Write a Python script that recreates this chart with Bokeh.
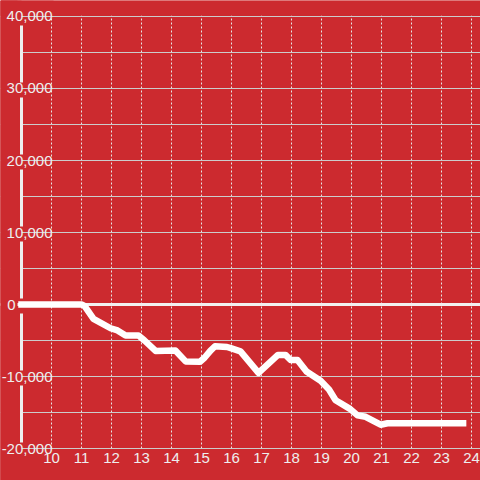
from bokeh.plotting import figure
from bokeh.models import (Range1d, FixedTicker, SingleIntervalTicker, LinearAxis,
                          Grid, BoxAnnotation, Span)
from bokeh.embed import file_html
from bokeh.resources import INLINE

# ---- data ----
hours = [9.0, 11.0, 11.1, 11.4, 11.97, 12.2, 12.47, 12.9, 13.1, 13.47, 14.13,
         14.47, 14.95, 15.1, 15.3, 15.45, 15.85, 16.0, 16.3, 16.9, 17.55, 17.8,
         17.97, 18.2, 18.5, 18.97, 19.25, 19.47, 19.95, 20.2, 20.47, 20.97,
         21.2, 23.72]
values = [0, 0, -200, -2000, -3300, -3600, -4300, -4300, -5000, -6450, -6400,
          -7900, -7950, -7400, -6400, -5800, -5900, -6100, -6500, -9500, -7000,
          -7000, -7700, -7700, -9300, -10600, -11800, -13300, -14500, -15400,
          -15600, -16700, -16500, -16500]

x_ticks = list(range(10, 25))
x_tick_labels = [str(v) for v in x_ticks]
y_ticks = [-20000, -10000, 0, 10000, 20000, 30000, 40000]
y_tick_labels = ["-20,000", "-10,000", "0", "10,000", "20,000", "30,000", "40,000"]

RED = "#cc2a2f"
LABEL = "#eeeeee"
FONT = "Liberation Sans"
Y0, Y1 = y_ticks[0], y_ticks[-1]
AXIS_X = 9

p = figure(width=480, height=480, output_backend="svg", toolbar_location=None,
           tools="", x_range=Range1d(8.3, 24.3), y_range=Range1d(-24444.4, 42222.2),
           min_border_left=0, min_border_right=0, min_border_top=0,
           min_border_bottom=0, background_fill_color=RED,
           border_fill_color=RED, outline_line_color=None)

p.xgrid.visible = False
p.ygrid.visible = False

# x axis, drawn along y = -20,000
xa = p.xaxis[0]
xa.ticker = FixedTicker(ticks=x_ticks)
xa.major_label_overrides = dict(zip(x_ticks, x_tick_labels))
xa.fixed_location = Y0
xa.axis_line_color = None
xa.major_tick_line_color = None
xa.minor_tick_line_color = None
xa.major_tick_out = 0
xa.major_label_standoff = 4
xa.major_label_text_color = LABEL
xa.major_label_text_font = FONT
xa.major_label_text_font_size = "15px"

# y axis (all ticks except 0), drawn at x = 9
nz_ticks = [t for t in y_ticks if t != 0]
ya = p.yaxis[0]
ya.ticker = FixedTicker(ticks=nz_ticks)
ya.major_label_overrides = {t: l for t, l in zip(y_ticks, y_tick_labels) if t != 0}
ya.fixed_location = AXIS_X
ya.axis_line_color = None
ya.major_tick_line_color = None
ya.minor_tick_line_color = None
ya.major_tick_out = 0
ya.major_label_standoff = -31
ya.major_label_text_color = LABEL
ya.major_label_text_font = FONT
ya.major_label_text_font_size = "15px"

# the "0" label sits left of the axis
za = LinearAxis(ticker=FixedTicker(ticks=[t for t in y_ticks if t == 0]),
                major_label_overrides={t: l for t, l in zip(y_ticks, y_tick_labels) if t == 0},
                fixed_location=AXIS_X, axis_line_color=None, major_tick_line_color=None,
                minor_tick_line_color=None, major_tick_out=0, major_label_standoff=6,
                major_label_text_color=LABEL, major_label_text_font=FONT,
                major_label_text_font_size="15px")
p.add_layout(za, "left")

def mask(level, **kw):
    return BoxAnnotation(fill_color=RED, fill_alpha=1, line_color=None, level=level, **kw)

# grids and masks, in drawing order
ytk = SingleIntervalTicker(interval=10000, num_minor_ticks=2)
p.add_layout(Grid(dimension=1, ticker=ytk, grid_line_color="#cccccc",
                  grid_line_width=1, level="image"))
p.add_layout(mask("image", right=10.067))
p.add_layout(Grid(dimension=0, ticker=FixedTicker(ticks=x_ticks), grid_line_color="#e6e6e6",
                  grid_line_dash="2 2", grid_line_width=1, level="underlay"))
p.add_layout(Grid(dimension=1, ticker=ytk, grid_line_color=None,
                  minor_grid_line_color="#cccccc", minor_grid_line_width=1,
                  level="underlay"))
p.add_layout(mask("underlay", right=AXIS_X))
p.add_layout(Span(location=0, dimension="width", line_color="#f2f2f2", line_width=3,
                  level="underlay"))
p.add_layout(mask("underlay", right=8.8667))
p.add_layout(mask("underlay", bottom=Y1 + 120))
p.add_layout(mask("underlay", top=Y0 - 120))

# y axis rule, broken where the tick labels sit
p.segment(x0=[AXIS_X], y0=[Y0], x1=[AXIS_X], y1=[Y1], line_color=LABEL,
          line_width=3, line_dash="57 15", line_dash_offset=66)

p.line(hours, values, line_color="white", line_width=6.5, line_join="round",
       line_cap="square")

open("out.html", "w").write(file_html(p, INLINE))
